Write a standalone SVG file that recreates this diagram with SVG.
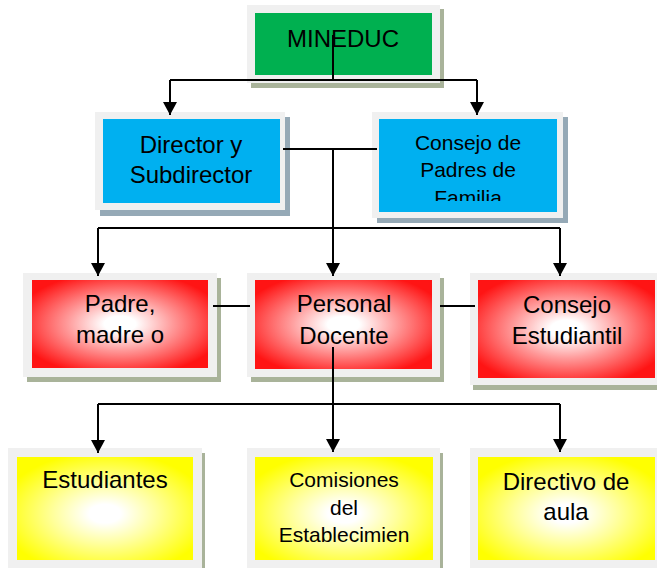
<svg xmlns="http://www.w3.org/2000/svg" width="657" height="568" viewBox="0 0 657 568">
<style>
.frame{fill:#f0f0f0}
.sh-g{fill:#a9b39a}
.sh-b{fill:#95a9b6}
.t{font-family:"Liberation Sans",Arial,sans-serif;fill:#000;text-anchor:middle}
.conn{stroke:#000;stroke-width:2;fill:none}
</style>
<defs>
<radialGradient id="gRed" cx="50%" cy="50%" r="60%">
<stop offset="0" stop-color="#ffffff"/>
<stop offset="0.15" stop-color="#ffffff"/>
<stop offset="0.5" stop-color="#ff9a9a"/>
<stop offset="1" stop-color="#ff1414"/>
</radialGradient>
<radialGradient id="gYel" cx="50%" cy="55%" r="60%">
<stop offset="0" stop-color="#ffffff"/>
<stop offset="0.15" stop-color="#ffffff"/>
<stop offset="0.5" stop-color="#ffff9a"/>
<stop offset="1" stop-color="#ffff00"/>
</radialGradient>
<marker id="arr" markerUnits="userSpaceOnUse" viewBox="0 0 13 14" refX="13" refY="7" markerWidth="13" markerHeight="14" orient="auto">
<path d="M0,0 L13,7 L0,14 z" fill="#000"/>
</marker>
<clipPath id="clipCP"><rect x="379" y="119" width="178" height="82"/></clipPath>
</defs>

<g id="mineduc">
<rect class="sh-g" x="251" y="9" width="193" height="79"/>
<rect class="frame" x="247" y="5" width="193" height="78"/>
<rect x="255" y="13" width="177" height="62" fill="#00b050"/>
<text class="t" x="343" y="47" font-size="24">MINEDUC</text>
</g>

<g id="director">
<rect class="sh-b" x="100" y="117" width="190" height="99"/>
<rect class="frame" x="95" y="112" width="190" height="98"/>
<rect x="103" y="119" width="177" height="84" fill="#00b0f0"/>
<text class="t" x="191" y="153" font-size="24">Director y</text>
<text class="t" x="191" y="183" font-size="24">Subdirector</text>
</g>

<g id="consejo-padres">
<rect class="sh-b" x="377" y="117" width="191" height="106"/>
<rect class="frame" x="372" y="112" width="191" height="106"/>
<rect x="379" y="119" width="178" height="93" fill="#00b0f0"/>
<g clip-path="url(#clipCP)">
<text class="t" x="468" y="150" font-size="21">Consejo de</text>
<text class="t" x="468" y="177" font-size="21">Padres de</text>
<text class="t" x="468" y="205" font-size="21">Familia</text>
</g>
</g>

<g id="padre">
<rect class="sh-g" x="27" y="278" width="194" height="104"/>
<rect class="frame" x="23" y="273" width="194" height="104"/>
<rect x="32" y="280" width="176" height="88" fill="url(#gRed)"/>
<text class="t" x="120" y="312" font-size="24">Padre,</text>
<text class="t" x="120" y="343" font-size="24">madre o</text>
</g>

<g id="personal">
<rect class="sh-g" x="251" y="278" width="193" height="104"/>
<rect class="frame" x="247" y="273" width="193" height="104"/>
<rect x="255" y="280" width="177" height="89" fill="url(#gRed)"/>
<text class="t" x="344" y="312" font-size="24">Personal</text>
<text class="t" x="344" y="344" font-size="24">Docente</text>
</g>

<g id="consejo-estudiantil">
<rect class="sh-g" x="473" y="278" width="190" height="112"/>
<rect class="frame" x="470" y="273" width="190" height="112"/>
<rect x="478" y="280" width="177" height="98" fill="url(#gRed)"/>
<text class="t" x="567" y="313" font-size="24">Consejo</text>
<text class="t" x="567" y="344" font-size="24">Estudiantil</text>
</g>

<g id="estudiantes">
<rect class="sh-g" x="11" y="453" width="194" height="120"/>
<rect class="frame" x="8" y="448" width="194" height="120"/>
<rect x="17" y="457" width="176" height="103" fill="url(#gYel)"/>
<text class="t" x="105" y="488" font-size="24">Estudiantes</text>
</g>

<g id="comisiones">
<rect class="sh-g" x="250" y="453" width="193" height="120"/>
<rect class="frame" x="247" y="448" width="193" height="120"/>
<rect x="255" y="457" width="178" height="103" fill="url(#gYel)"/>
<text class="t" x="344" y="487" font-size="21">Comisiones</text>
<text class="t" x="344" y="515" font-size="21">del</text>
<text class="t" x="344" y="542" font-size="21">Establecimien</text>
</g>

<g id="directivo">
<rect class="sh-g" x="473" y="453" width="190" height="120"/>
<rect class="frame" x="470" y="448" width="190" height="120"/>
<rect x="478" y="457" width="177" height="103" fill="url(#gYel)"/>
<text class="t" x="566" y="490" font-size="24">Directivo de</text>
<text class="t" x="566" y="520" font-size="24">aula</text>
</g>

<g id="connectors">
<path class="conn" d="M333,35 V80"/>
<path class="conn" d="M170,80 H477"/>
<path class="conn" d="M170,80 V115" marker-end="url(#arr)"/>
<path class="conn" d="M477,80 V115" marker-end="url(#arr)"/>
<path class="conn" d="M283,149 H377"/>
<path class="conn" d="M333,149 V276" marker-end="url(#arr)"/>
<path class="conn" d="M98,228 H560"/>
<path class="conn" d="M98,228 V276" marker-end="url(#arr)"/>
<path class="conn" d="M560,228 V276" marker-end="url(#arr)"/>
<path class="conn" d="M213,306 H250"/>
<path class="conn" d="M440,306 H475"/>
<path class="conn" d="M333,347 V404"/>
<path class="conn" d="M98,404 H560"/>
<path class="conn" d="M98,404 V453" marker-end="url(#arr)"/>
<path class="conn" d="M333,404 V452" marker-end="url(#arr)"/>
<path class="conn" d="M560,404 V452" marker-end="url(#arr)"/>
</g>
</svg>
